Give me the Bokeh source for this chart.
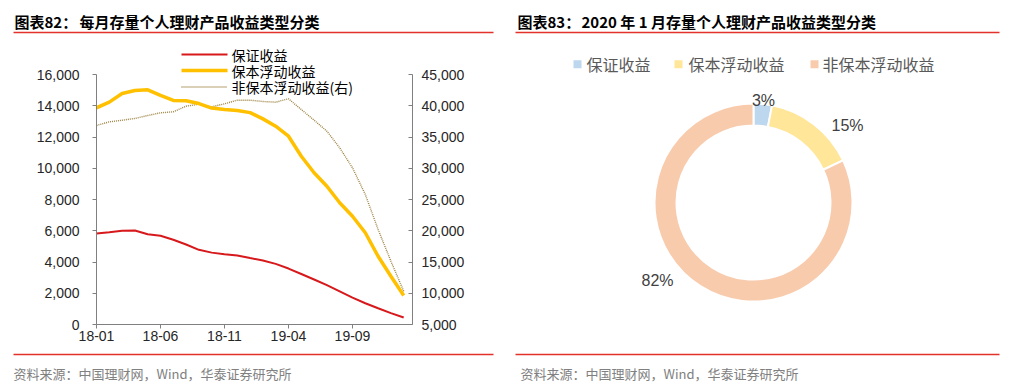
import math
from bokeh.plotting import figure
from bokeh.models import Range1d, LinearAxis, FixedTicker, Label, NumeralTickFormatter
from bokeh.layouts import column, row
from bokeh.embed import file_html
from bokeh.resources import INLINE
from bokeh.core.properties import value

# ---------------- data ----------------
months = ["18-01", "18-02", "18-03", "18-04", "18-05", "18-06", "18-07", "18-08",
          "18-09", "18-10", "18-11", "18-12", "19-01", "19-02", "19-03", "19-04",
          "19-05", "19-06", "19-07", "19-08", "19-09", "19-10", "19-11", "19-12", "20-01"]
guaranteed = [5820, 5900, 6000, 6020, 5780, 5680, 5420, 5120, 4780, 4600, 4500, 4420,
              4250, 4100, 3880, 3580, 3230, 2880, 2520, 2120, 1720, 1360, 1040, 730, 450]
principal_float = [13870, 14230, 14780, 14980, 15020, 14660, 14340, 14320, 14140, 13850,
                   13760, 13700, 13560, 13160, 12690, 12050, 10770, 9710, 8850, 7790,
                   6930, 5870, 4370, 3090, 1860]
nonprincipal_float = [36840, 37430, 37690, 37960, 38440, 38870, 39030, 39930, 40250, 39830,
                      40310, 40890, 40890, 40680, 40570, 41110, 39400, 37690, 35930, 33270,
                      30070, 25800, 20200, 15130, 10330]
series_names = ["保证收益", "保本浮动收益", "非保本浮动收益(右)"]
x_tick_labels = ["18-01", "18-06", "18-11", "19-04", "19-09"]
left_ticks = [0, 2000, 4000, 6000, 8000, 10000, 12000, 14000, 16000]
right_ticks = [5000, 10000, 15000, 20000, 25000, 30000, 35000, 40000, 45000]

pie_names = ["保证收益", "保本浮动收益", "非保本浮动收益"]
pie_values = [3, 15, 82]

title_left_a = "图表82："
title_left_b = "每月存量个人理财产品收益类型分类"
title_right_a = "图表83："
title_right_b = "2020 年 1 月存量个人理财产品收益类型分类"
source_text = "资料来源：中国理财网，Wind，华泰证券研究所"
unit_text = "（只）"

# ---------------- styles ----------------
CJK = "Noto Sans CJK SC"
SANS = "Liberation Sans"
RED_RULE = "#E2322B"
line_colors = ["#D7191C", "#FFC000", "#9C8341"]
pie_colors = ["#BDD7EE", "#FFE699", "#F8CBAD"]

O = 1  # page origin of the layout (measured)


def blank(w, h, x0, x1, y0, y1):
    f = figure(width=w, height=h, x_range=Range1d(x0, x1), y_range=Range1d(-y1, -y0),
               output_backend="svg", toolbar_location=None, min_border=0,
               x_axis_location=None, y_axis_location=None, outline_line_color=None,
               background_fill_color="white", border_fill_color="white")
    f.grid.grid_line_color = None
    return f


def txt(f, x, y, s, size, color="black", bold=False, font=CJK, align="left"):
    f.text(x=[x], y=[-y], text=[s], text_font=value(font), text_font_size=size,
           text_font_style="bold" if bold else "normal", text_color=color,
           text_baseline="middle", text_align=align)


# ---------------- top strip (titles) ----------------
top = blank(1007 - O, 40 - O, O, 1007, O, 40)
txt(top, 15, 22, title_left_a, "15px", bold=True)
txt(top, 80, 22, title_left_b, "15px", bold=True)
txt(top, 518, 22, title_right_a, "15px", bold=True)
txt(top, 582, 22, title_right_b, "15px", bold=True)
top.line(x=[14, 494], y=[-33, -33], line_color=RED_RULE, line_width=1.5)
top.line(x=[516, 1000], y=[-33, -33], line_color=RED_RULE, line_width=1.5)

# ---------------- bottom strip (sources) ----------------
bot = blank(1007 - O, 34, O, 1007, 350, 384)
bot.line(x=[14, 494], y=[-355, -355], line_color=RED_RULE, line_width=1.5)
bot.line(x=[516, 1000], y=[-355, -355], line_color=RED_RULE, line_width=1.5)
txt(bot, 14, 374, source_text, "13px", color="#808080")
txt(bot, 521, 374, source_text, "13px", color="#808080")

# ---------------- left line chart ----------------
FX0, FY0 = 97, 325     # pixel of x=0 and y=0 (left axis)
PXM = 12.8             # px per month
PPK = 15.625           # px per 1000 (left)


def X(px):
    return (px - FX0) / PXM


def Y(py):
    return (FY0 - py) / PPK * 1000


xs = list(range(len(months)))
p = figure(width=515 - O, height=310, x_range=Range1d(0, 316 / PXM), y_range=Range1d(0, 280 / PPK * 1000),
           output_backend="svg", toolbar_location=None,
           min_border_left=FX0 - O, min_border_right=515 - 413, min_border_top=5, min_border_bottom=25,
           outline_line_color=None, background_fill_color="white", border_fill_color="white")
p.extra_y_ranges = {"right": Range1d(5000, 5000 + 280 * 160)}
p.grid.grid_line_color = None

ax_color = "#808080"
lab_color = "#262626"

yl = p.yaxis[0]
yl.ticker = FixedTicker(ticks=left_ticks)
yl.formatter = NumeralTickFormatter(format="0,0")
yl.bounds = (left_ticks[0], left_ticks[-1])
yl.major_tick_out = 4
yl.major_tick_in = 0
yl.major_label_standoff = 13

yr = LinearAxis(y_range_name="right", ticker=FixedTicker(ticks=right_ticks),
                formatter=NumeralTickFormatter(format="0,0"),
                bounds=(right_ticks[0], right_ticks[-1]))
yr.major_tick_out = 0
yr.major_tick_in = 4
yr.major_label_standoff = 9
p.add_layout(yr, "right")

xa = p.xaxis[0]
xa.ticker = FixedTicker(ticks=[months.index(m) for m in x_tick_labels])
xa.major_label_overrides = {months.index(m): m for m in x_tick_labels}
xa.major_tick_out = 4
xa.major_tick_in = 0
xa.major_label_standoff = 2

for ax in [yl, yr, xa]:
    ax.axis_line_color = ax_color
    ax.major_tick_line_color = ax_color
    ax.minor_tick_line_color = None
    ax.major_label_text_font = SANS
    ax.major_label_text_font_size = "14px"
    ax.major_label_text_color = lab_color

p.line(xs, nonprincipal_float, y_range_name="right", line_color=line_colors[2],
       line_width=1.4, line_dash="1 1")
p.line(xs, principal_float, line_color=line_colors[1], line_width=3.5)
p.line(xs, guaranteed, line_color=line_colors[0], line_width=2)

# legend (manual)
leg_rows = [55, 71, 87.5]
leg_w = [2, 3.5, 1.4]
leg_dash = ["solid", "solid", "1 1"]
for i, name in enumerate(series_names):
    p.line(x=[X(182), X(228)], y=[Y(leg_rows[i])] * 2, line_color=line_colors[i],
           line_width=leg_w[i], line_dash=leg_dash[i])
    p.text(x=[X(232)], y=[Y(leg_rows[i])], text=[name], text_font=value(CJK),
           text_font_size="14px", text_color="black", text_baseline="middle")

p.add_layout(Label(x=X(60), y=Y(57), text=unit_text, text_font=CJK, text_font_size="12px",
                   text_color=lab_color, text_align="center", text_baseline="middle"))
p.add_layout(Label(x=X(450), y=Y(57), text=unit_text, text_font=CJK, text_font_size="12px",
                   text_color=lab_color, text_align="center", text_baseline="middle"))

# ---------------- right donut ----------------
d = blank(492, 310, 515, 1007, 40, 350)
cx, cy, r_out, r_in = 754, 215, 99, 77
total = float(sum(pie_values))
cum = 0.0
starts, ends = [], []
for v in pie_values:
    a0 = cum / total
    cum += v
    a1 = cum / total
    starts.append(math.pi / 2 - 2 * math.pi * a1)
    ends.append(math.pi / 2 - 2 * math.pi * a0)
d.annular_wedge(x=[cx] * 3, y=[-cy] * 3, inner_radius=r_in, outer_radius=r_out,
                start_angle=starts, end_angle=ends, fill_color=pie_colors,
                line_color="white", line_width=2)

pct_pos = [(764, 102), (848, 130), (658, 301)]
for (lx, ly), v in zip(pct_pos, pie_values):
    txt(d, lx, ly, f"{v}%", "16px", color="#404040", font=SANS, align="center")

leg_sq_x = [578, 679, 815]
leg_tx_x = [587, 689, 823]
d.scatter(x=leg_sq_x, y=[-62] * 3, marker="square", size=8, fill_color=pie_colors, line_color=None)
for tx, name in zip(leg_tx_x, pie_names):
    txt(d, tx, 62, name, "16px", color="#595959")

layout = column(top, row(p, d), bot)
open("out.html", "w").write(file_html(layout, INLINE))
